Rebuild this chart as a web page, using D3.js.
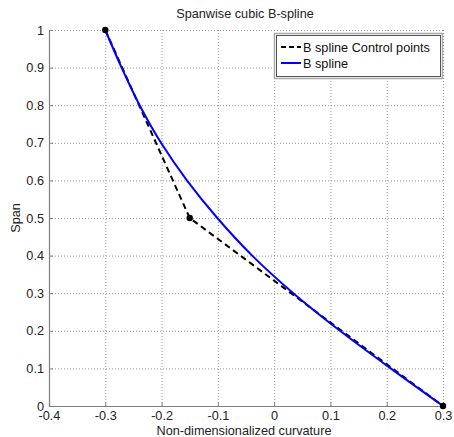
<!DOCTYPE html>
<html>
<head>
<meta charset="utf-8">
<script src="https://cdn.jsdelivr.net/npm/d3@7"></script>
<style>
  html, body { margin: 0; padding: 0; background: #fff; }
  svg { display: block; font-family: "Liberation Sans", Arial, sans-serif; }
</style>
</head>
<body>
<svg id="chart" width="454" height="437"></svg>
<script>
// Control polygon of the spanwise B-spline
const controlX = [-0.3, -0.15, 0.3];
const controlY = [1.0, 0.5, 0.0];

// Sampled B-spline curve
const splineX = [-0.3, -0.271, -0.239, -0.201, -0.155, -0.101, -0.039, 0.034, 0.117, 0.207, 0.3];
const splineY = [1.0, 0.9, 0.8, 0.7, 0.6, 0.5, 0.4, 0.3, 0.2, 0.1, 0.0];

const xTicks = [-0.4, -0.3, -0.2, -0.1, 0, 0.1, 0.2, 0.3];
const yTicks = [0, 0.1, 0.2, 0.3, 0.4, 0.5, 0.6, 0.7, 0.8, 0.9, 1];

const legendLabels = ["B spline Control points", "B spline"];

const FS = 12.7;
const svg = d3.select("#chart");
const margin = { left: 49, right: 11, top: 30, bottom: 31 };
const W = 454, H = 437;

const x = d3.scaleLinear().domain([-0.4, 0.3]).range([margin.left, W - margin.right]);
const y = d3.scaleLinear().domain([0, 1]).range([H - margin.bottom, margin.top]);

// dotted grid
const grid = svg.append("g");
grid.selectAll("line.gx").data(xTicks.slice(1)).join("line")
  .attr("x1", d => x(d) + 0.5).attr("x2", d => x(d) + 0.5)
  .attr("y1", y(0)).attr("y2", y(1))
  .attr("stroke", "#999").attr("stroke-width", 1).attr("stroke-dasharray", "1,2");
grid.selectAll("line.gy").data(yTicks.slice(1)).join("line")
  .attr("y1", d => y(d) + 0.5).attr("y2", d => y(d) + 0.5)
  .attr("x1", x(-0.4)).attr("x2", x(0.3))
  .attr("stroke", "#999").attr("stroke-width", 1).attr("stroke-dasharray", "1,2");

// axes (plain hyphen for negative numbers)
const fmt = d => (d === 0 ? "0" : String(+d.toFixed(1)));
const xAxis = svg.append("g").attr("transform", `translate(0,${y(0)})`)
  .call(d3.axisBottom(x).tickValues(xTicks).tickFormat(fmt).tickSize(-4).tickPadding(5));
const yAxis = svg.append("g").attr("transform", `translate(${x(-0.4)},0)`)
  .call(d3.axisLeft(y).tickValues(yTicks).tickFormat(fmt).tickSize(-4).tickPadding(5));
[xAxis, yAxis].forEach(a => {
  a.select(".domain").attr("stroke", "#808080").attr("stroke-width", 1.2);
  a.selectAll(".tick line").attr("stroke", "#808080");
  a.selectAll(".tick text").attr("fill", "#222").attr("font-size", FS)
    .attr("font-family", "'Liberation Sans', Arial, sans-serif");
});

// control polygon
const ctrl = controlX.map((d, i) => [d, controlY[i]]);
const line = d3.line().x(d => x(d[0])).y(d => y(d[1]));
svg.append("path").datum(ctrl).attr("d", line)
  .attr("fill", "none").attr("stroke", "#000").attr("stroke-width", 2)
  .attr("stroke-dasharray", "6,4");

// spline curve
const spl = splineX.map((d, i) => [d, splineY[i]]);
const curveLine = d3.line().x(d => x(d[0])).y(d => y(d[1])).curve(d3.curveCatmullRom.alpha(0.5));
svg.append("path").datum(spl).attr("d", curveLine)
  .attr("fill", "none").attr("stroke", "#0000ff").attr("stroke-width", 2);

// control point markers
svg.selectAll("circle.cp").data(ctrl).join("circle")
  .attr("cx", d => x(d[0])).attr("cy", d => y(d[1])).attr("r", 3.2)
  .attr("fill", "#000");

// title and axis labels
svg.append("text").attr("x", 245).attr("y", 18).attr("text-anchor", "middle")
  .attr("font-size", FS).attr("fill", "#222").text("Spanwise cubic B-spline");
svg.append("text").attr("x", 244).attr("y", 435).attr("text-anchor", "middle")
  .attr("font-size", FS).attr("fill", "#222").text("Non-dimensionalized curvature");
svg.append("text").attr("transform", "translate(20,218) rotate(-90)")
  .attr("text-anchor", "middle").attr("font-size", FS).attr("fill", "#222").text("Span");

// legend
const lg = svg.append("g");
lg.append("rect").attr("x", 274.5).attr("y", 33.5).attr("width", 168).attr("height", 45)
  .attr("fill", "#fff").attr("stroke", "#aaa").attr("stroke-width", 1.5);
lg.append("rect").attr("x", 276.5).attr("y", 35.5).attr("width", 164).attr("height", 41)
  .attr("fill", "none").attr("stroke", "#555").attr("stroke-width", 1);
const styles = [
  { stroke: "#000", dash: "5,3" },
  { stroke: "#0000ff", dash: null }
];
legendLabels.forEach((t, i) => {
  const ly = 47 + i * 16;
  lg.append("line").attr("x1", 281).attr("x2", 301).attr("y1", ly).attr("y2", ly)
    .attr("stroke", styles[i].stroke).attr("stroke-width", 2)
    .attr("stroke-dasharray", styles[i].dash);
  lg.append("text").attr("x", 303).attr("y", ly + 4.5).attr("font-size", FS)
    .attr("fill", "#111").text(t);
});
</script>
</body>
</html>
